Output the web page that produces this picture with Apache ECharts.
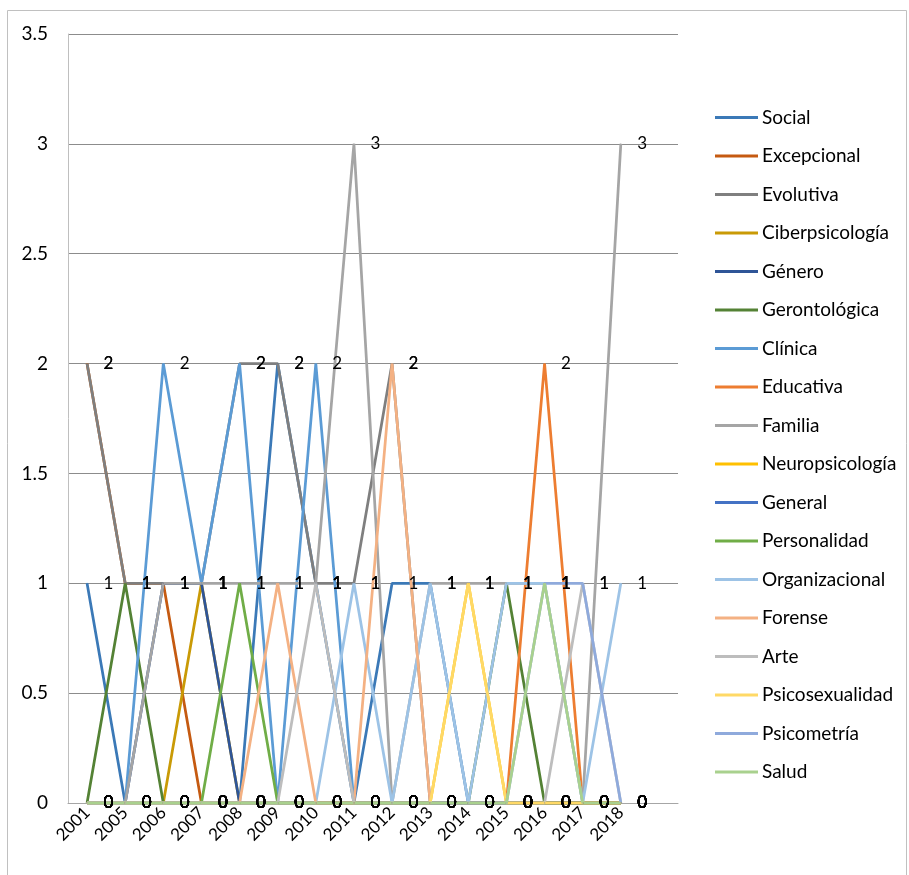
<!DOCTYPE html>
<html>
<head>
<meta charset="utf-8">
<script src="https://cdn.jsdelivr.net/npm/echarts@6/dist/echarts.min.js"></script>
<style>
html,body{margin:0;padding:0;background:#fff;}
#chart{width:909px;height:875px;}
</style>
</head>
<body>
<div id="chart"></div>
<script>
// Categories (last one is an empty slot, as in the original sheet)
var years = ['2001','2005','2006','2007','2008','2009','2010','2011','2012','2013','2014','2015','2016','2017','2018',''];
var seriesNames = ['Social','Excepcional','Evolutiva','Ciberpsicología','Género','Gerontológica','Clínica','Educativa','Familia','Neuropsicología','General','Personalidad','Organizacional','Forense','Arte','Psicosexualidad','Psicometría','Salud'];
var social         = [1,0,0,0,0,2,1,0,1,1,0,0,0,0,0,null];
var excepcional    = [2,1,1,0,0,0,0,0,0,0,0,0,0,0,0,null];
var evolutiva      = [2,1,1,1,2,2,1,1,2,0,0,0,0,0,0,null];
var ciberpsicologia= [0,0,0,1,0,0,0,0,0,0,0,0,0,0,0,null];
var genero         = [0,0,1,1,0,0,0,0,0,0,0,0,0,0,0,null];
var gerontologica  = [0,1,0,0,0,0,0,0,0,0,0,1,0,0,0,null];
var clinica        = [0,0,2,1,2,0,2,0,0,0,0,0,0,0,0,null];
var educativa      = [0,0,0,0,0,0,0,0,0,0,0,0,2,0,0,null];
var familia        = [0,0,1,1,1,1,1,3,0,1,1,1,1,0,3,null];
var neuropsicologia= [0,0,0,0,0,0,0,0,0,0,1,0,0,0,0,null];
var general        = [0,0,0,0,0,0,0,0,0,0,0,0,0,0,0,null];
var personalidad   = [0,0,0,0,1,0,0,0,0,0,0,0,0,0,0,null];
var organizacional = [0,0,0,0,0,0,0,1,0,1,0,1,1,0,1,null];
var forense        = [0,0,0,0,0,1,0,0,2,0,0,0,0,0,0,null];
var arte           = [0,0,0,0,0,0,1,0,0,0,0,0,0,1,0,null];
var psicosexualidad= [0,0,0,0,0,0,0,0,0,0,1,0,0,0,0,null];
var psicometria    = [0,0,0,0,0,0,0,0,0,0,0,0,1,1,0,null];
var salud          = [0,0,0,0,0,0,0,0,0,0,0,0,1,0,0,null];
var seriesValues = [social,excepcional,evolutiva,ciberpsicologia,genero,gerontologica,clinica,educativa,familia,neuropsicologia,general,personalidad,organizacional,forense,arte,psicosexualidad,psicometria,salud];
var colors = ['#3B79B7','#C55A11','#7F7F7F','#C99A06','#2F5597','#548235','#5B9BD5','#ED7D31','#A5A5A5','#FFC000','#4472C4','#70AD47','#9DC3E6','#F4B183','#BDBDBD','#FFD966','#8FAADC','#A9D18E'];
var yTicks = {min:0, max:3.5, interval:0.5};

var FONT = 'Lato, "Open Sans", sans-serif';
var chart = echarts.init(document.getElementById('chart'), null, {renderer:'canvas'});
var series = seriesNames.map(function(name, i){
  return {
    name: name,
    type: 'line',
    data: seriesValues[i],
    color: colors[i],
    symbol: 'circle',
    symbolSize: 1,
    showAllSymbol: true,
    itemStyle: {color: colors[i]},
    lineStyle: {width: 2.75, color: colors[i]},
    label: {show: true, position: 'right', distance: 16, color: '#000', fontSize: 17, fontFamily: FONT},
    emphasis: {disabled: true},
    silent: true,
    animation: false
  };
});
chart.setOption({
  animation: false,
  backgroundColor: '#fff',
  graphic: [{
    type: 'rect',
    shape: {x: 7.5, y: 10.5, width: 899, height: 900},
    style: {fill: 'none', stroke: '#C0C0C0', lineWidth: 1},
    silent: true
  }],
  grid: {left: 68, top: 34, right: 231, bottom: 72, containLabel: false},
  legend: {
    orient: 'vertical',
    left: 710,
    top: 102,
    icon: 'rect',
    itemWidth: 43,
    itemHeight: 3,
    itemGap: 17.5,
    selectedMode: false,
    textStyle: {fontSize: 19, lineHeight: 21, color: '#000', fontFamily: FONT, padding: [0,0,0,-1]},
    data: seriesNames
  },
  xAxis: {
    type: 'category',
    data: years,
    boundaryGap: true,
    axisLine: {lineStyle: {color: '#A6A6A6', width: 1}},
    axisTick: {show: false},
    axisLabel: {rotate: 45, fontSize: 17, color: '#000', fontFamily: FONT, margin: 7, interval: 0},
    splitLine: {show: false}
  },
  yAxis: {
    type: 'value',
    min: yTicks.min,
    max: yTicks.max,
    interval: yTicks.interval,
    axisLine: {show: true, lineStyle: {color: '#BFBFBF', width: 1}},
    axisTick: {show: false},
    axisLabel: {fontSize: 19, color: '#000', fontFamily: FONT, margin: 20},
    splitLine: {show: true, lineStyle: {color: '#8C8C8C', width: 1}}
  },
  series: series
});
</script>
</body>
</html>
